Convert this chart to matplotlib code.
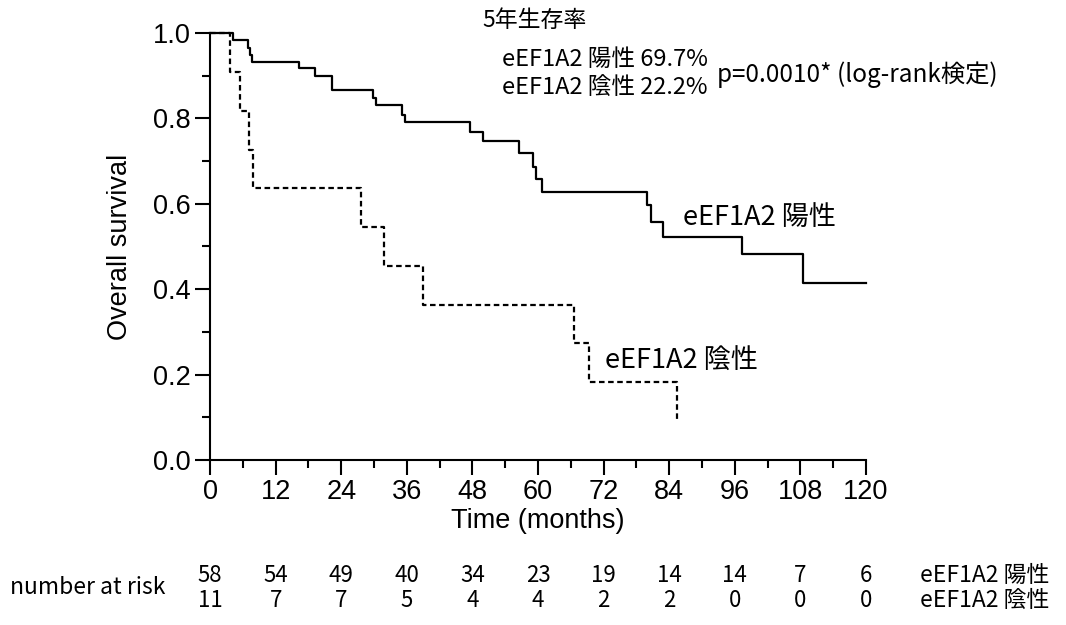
import numpy as np
import matplotlib.pyplot as plt

plt.rcParams['font.family'] = ['Liberation Sans', 'DejaVu Sans']
JP = ['Noto Sans CJK JP', 'DejaVu Sans']

# Kaplan-Meier steps (months, survival after the step)
pos_time = [0, 4.15, 6.9, 7.3, 7.6, 16.3, 19.2, 22.4, 29.8, 30.3, 35.2, 35.7,
            47.6, 50.0, 56.6, 59.1, 59.6, 60.7, 79.9, 80.6, 82.9, 97.3, 108.5, 120]
pos_surv = [1.0, 0.983, 0.966, 0.948, 0.933, 0.917, 0.900, 0.866, 0.847, 0.831,
            0.808, 0.791, 0.769, 0.747, 0.718, 0.687, 0.658, 0.627, 0.597, 0.558,
            0.522, 0.482, 0.414, 0.414]
neg_time = [0, 3.7, 5.4, 7.1, 7.9, 27.7, 31.9, 39.0, 66.5, 69.4, 85.4]
neg_surv = [1.0, 0.909, 0.818, 0.727, 0.636, 0.545, 0.455, 0.364, 0.273, 0.182, 0.091]

risk_times = [0, 12, 24, 36, 48, 60, 72, 84, 96, 108, 120]
risk_pos = [58, 54, 49, 40, 34, 23, 19, 14, 14, 7, 6]
risk_neg = [11, 7, 7, 5, 4, 4, 2, 2, 0, 0, 0]

label_pos = 'eEF1A2 陽性'
label_neg = 'eEF1A2 陰性'

fig = plt.figure(figsize=(10.66, 6.25), dpi=100)
ax = fig.add_axes([210/1066, 165/625, 656/1066, 427/625])

ax.step(pos_time, pos_surv, where='post', color='k', lw=1.6, clip_on=False)
ax.step(neg_time, neg_surv, where='post', color='k', lw=1.6,
        linestyle=(0, (2.5, 1.6)), clip_on=False)

ax.set_xlim(0, 120)
ax.set_ylim(0, 1.0)
ax.spines['top'].set_visible(False)
ax.spines['right'].set_visible(False)
for s in ['left', 'bottom']:
    ax.spines[s].set_linewidth(1.5)
ax.set_xticks(np.arange(0, 121, 12))
ax.set_xticks(np.arange(6, 120, 12), minor=True)
ax.set_yticks(np.arange(0, 1.01, 0.2))
ax.set_yticks(np.arange(0.1, 1.0, 0.2), minor=True)
ax.set_yticklabels(['%.1f' % v for v in np.arange(0, 1.01, 0.2)])
ax.tick_params(which='major', length=11, width=1.5, labelsize=19.5, pad=3)
ax.tick_params(which='minor', length=5.5, width=1.5)
ax.set_xlabel('Time (months)', fontsize=19.5, labelpad=2)
ax.set_ylabel('Overall survival', fontsize=19.5, labelpad=14)

# annotations
ax.text(49.8, 1.03, '5年生存率', family=JP, fontsize=16.5, va='center')
ax.text(53.4, 0.937, label_pos + ' 69.7%', family=JP, fontsize=17, va='center')
ax.text(53.4, 0.871, label_neg + ' 22.2%', family=JP, fontsize=17, va='center')
ax.text(92.7, 0.902, 'p=0.0010* (log-rank検定)', family=JP, fontsize=17.5, va='center')
ax.text(86.5, 0.567, label_pos, family=JP, fontsize=19.5, va='center')
ax.text(72.3, 0.234, label_neg, family=JP, fontsize=19.5, va='center')

# number at risk table
tr = ax.get_xaxis_transform()
row1, row2 = -0.270, -0.330
for t, a, b in zip(risk_times, risk_pos, risk_neg):
    ax.text(t, row1, str(a), transform=tr, family=JP, fontsize=16,
            ha='center', va='center', clip_on=False)
    ax.text(t, row2, str(b), transform=tr, family=JP, fontsize=16,
            ha='center', va='center', clip_on=False)
ax.text(129.9, row1, label_pos, transform=tr, family=JP, fontsize=16.5,
        va='center', clip_on=False)
ax.text(129.9, row2, label_neg, transform=tr, family=JP, fontsize=16.5,
        va='center', clip_on=False)
fig.text(10/1066, (625-588)/625, 'number at risk', family=JP, fontsize=16.5,
         va='center')

fig.savefig('out.png', dpi=100)
